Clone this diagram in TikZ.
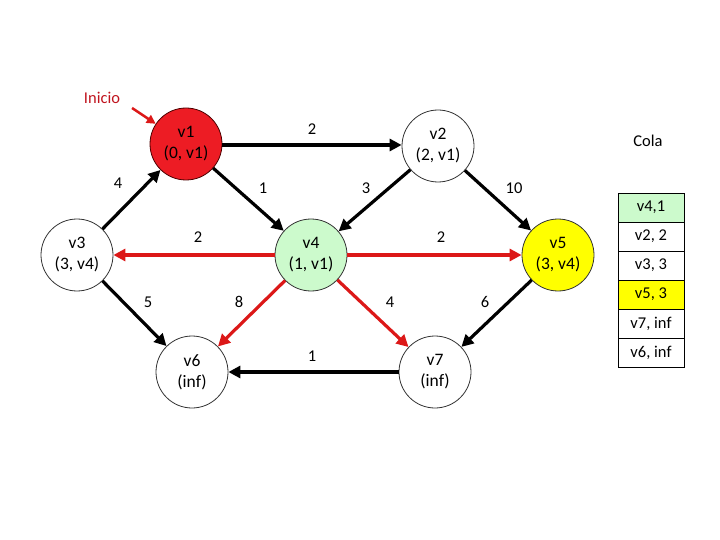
\documentclass[tikz,border=0pt]{standalone}
\usepackage{fontspec}
\setmainfont{Carlito}
\usetikzlibrary{arrows.meta}
\definecolor{nodered}{RGB}{237,28,36}
\definecolor{nodegreen}{RGB}{204,250,204}
\definecolor{nodeyellow}{RGB}{255,255,0}
\definecolor{edgered}{RGB}{220,24,24}
\definecolor{labred}{RGB}{192,20,30}
\tikzset{
  vert/.style={circle, draw=black!80, line width=0.8pt, minimum size=72pt, inner sep=0pt, align=center, font=\fontsize{17.5}{21}\selectfont},
  blk/.style={line width=3.2pt, black, -{Triangle[length=12pt,width=12pt]}},
  rd/.style={line width=3.2pt, edgered, -{Triangle[length=12pt,width=12pt]}},
  wlab/.style={font=\fontsize{16.5}{19}\selectfont},
  cell/.style={draw=black, line width=0.8pt, minimum width=66pt, minimum height=29pt, inner sep=0pt, font=\fontsize{16.5}{19}\selectfont}
}
\begin{document}
\begin{tikzpicture}[x=1pt,y=-1pt]
\useasboundingbox (0,0) rectangle (720,540);
\node[vert, fill=nodered, draw=black!70!red] (v1) at (186,144) {v1\\(0, v1)};
\node[vert, fill=white] (v2) at (438,146) {v2\\(2, v1)};
\node[vert, fill=white] (v3) at (77,255) {v3\\(3, v4)};
\node[vert, fill=nodegreen] (v4) at (311,255) {v4\\(1, v1)};
\node[vert, fill=nodeyellow] (v5) at (558,255) {v5\\(3, v4)};
\node[vert, fill=white] (v6) at (192,372) {v6\\(inf)};
\node[vert, fill=white] (v7) at (435,372) {v7\\(inf)};

\node[font=\fontsize{16.5}{19}\selectfont, text=labred] (ini) at (102,98) {Inicio};
\coordinate (inis) at (132,108);
\draw[line width=2.5pt, edgered, -{Triangle[length=9pt,width=9pt]}] (inis) -- (v1);

\draw[blk] (v1.east |- 0,145) -- (v2.west |- 0,145);
\draw[blk] (v3) -- (v1);
\draw[blk] (v1) -- (v4);
\draw[blk] (v2) -- (v4);
\draw[blk] (v2) -- (v5);
\draw[rd] (v4) -- (v3);
\draw[rd] (v4) -- (v5);
\draw[blk] (v3) -- (v6);
\draw[rd] (v4) -- (v6);
\draw[rd] (v4) -- (v7);
\draw[blk] (v5) -- (v7);
\draw[blk] (v7) -- (v6);

\node[wlab] (l12) at (312,129) {2};
\node[wlab] (l31) at (118,183) {4};
\node[wlab] (l14) at (263,188) {1};
\node[wlab] (l24) at (366,188) {3};
\node[wlab] (l25) at (514,188) {10};
\node[wlab] (l43) at (198,237) {2};
\node[wlab] (l45) at (441,237) {2};
\node[wlab] (l36) at (148,302) {5};
\node[wlab] (l46) at (239,302) {8};
\node[wlab] (l47) at (390,302) {4};
\node[wlab] (l57) at (485,302) {6};
\node[wlab] (l76) at (312,356) {1};

\node[wlab] (cola) at (648,141) {Cola};
\node[cell, fill=nodegreen] (c1) at (651,207.5) {v4,1};
\node[cell, fill=white] (c2) at (651,236.5) {v2, 2};
\node[cell, fill=white] (c3) at (651,265.5) {v3, 3};
\node[cell, fill=nodeyellow] (c4) at (651,294.5) {v5, 3};
\node[cell, fill=white] (c5) at (651,323.5) {v7, inf};
\node[cell, fill=white] (c6) at (651,352.5) {v6, inf};
\end{tikzpicture}
\end{document}
